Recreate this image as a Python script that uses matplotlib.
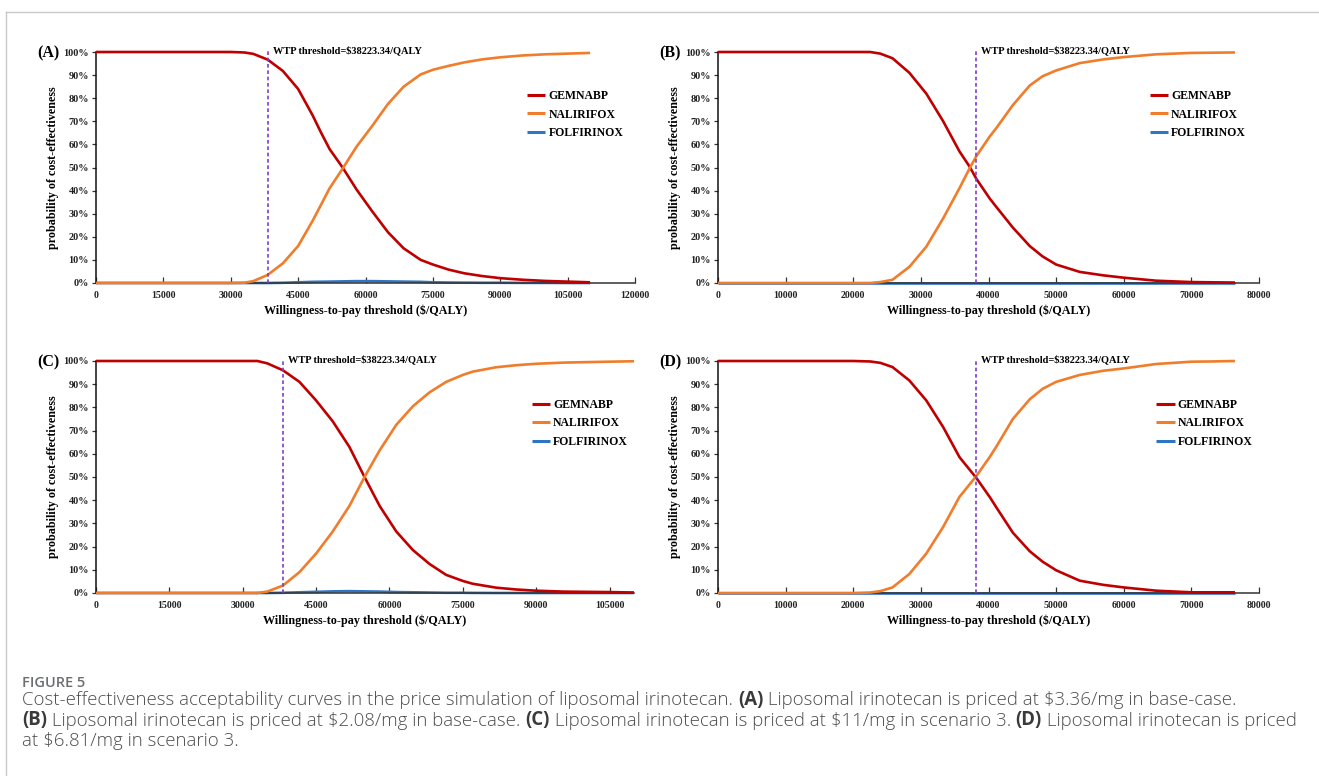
import matplotlib
matplotlib.use("Agg")
import matplotlib.pyplot as plt
from matplotlib.lines import Line2D
from matplotlib.ticker import FuncFormatter, FixedLocator

W, H = 1319, 776

# ---------------- data ----------------
series_names = ["GEMNABP", "NALIRIFOX", "FOLFIRINOX"]
wtp_threshold = 38223.34
wtp_label = "WTP threshold=$38223.34/QALY"
panel_labels = ["(A)", "(B)", "(C)", "(D)"]

# Panel A
xA = [0, 10000, 20000, 30000, 33000, 35000, 38223, 41600, 45000, 48250, 50000, 52000, 54900, 58000,
      61500, 65000, 68500, 72300, 75000, 78500, 82000, 86000, 90000, 95000, 100000, 105000, 110000]
gemA = [100, 100, 100, 100, 99.8, 99.2, 96.7, 91.8, 84, 72.5, 65.5, 58, 50, 40.5,
        31, 22, 15, 10, 8, 5.8, 4.2, 3, 2.1, 1.4, 0.9, 0.6, 0.3]
nalA = [0, 0, 0, 0, 0.1, 0.8, 3.5, 8.5, 16, 27, 33.5, 41, 49.5, 59,
        68, 77.5, 85, 90.3, 92.3, 94, 95.5, 96.8, 97.7, 98.5, 99, 99.3, 99.6]
folA = [0, 0, 0, 0, 0, 0, 0, 0.1, 0.3, 0.5, 0.55, 0.6, 0.7, 0.8,
        0.8, 0.7, 0.6, 0.5, 0.3, 0.2, 0.15, 0.1, 0.1, 0.05, 0.05, 0, 0]

# Panel B
xB = [0, 10000, 20000, 22500, 24000, 25800, 28300, 30800, 33300, 35700, 37200, 38223, 40200,
      41140, 43600, 46100, 48000, 50000, 53500, 57000, 60000, 64800, 70000, 73000, 76447]
gemB = [100, 100, 100, 100, 99.3, 97.3, 91, 82, 70, 57, 50.4, 45, 36.5,
        33, 24, 16, 11.5, 8, 4.8, 3.3, 2.3, 1.0, 0.4, 0.3, 0.2]
nalB = [0, 0, 0, 0, 0.4, 1.4, 7, 15.7, 28, 41, 49.6, 55, 63.5,
        67, 77, 85.5, 89.5, 92, 95.2, 96.8, 97.8, 99, 99.6, 99.7, 99.8]
folB = [0] * len(xB)

# Panel C
xC = [0, 15000, 30000, 33000, 35000, 38223, 41600, 45000, 48400, 51800, 54900, 58000, 61400,
      64800, 68200, 71600, 75000, 77000, 81800, 86000, 90000, 95500, 100000, 105000, 110000]
gemC = [100, 100, 100, 100, 99, 96, 91, 83, 74, 63, 50, 37.5, 26.5,
        18.5, 12.5, 7.8, 5.2, 4, 2.3, 1.5, 1.0, 0.6, 0.5, 0.4, 0.2]
nalC = [0, 0, 0, 0, 0.6, 3.2, 9, 17, 26.5, 37.5, 50, 61.5, 72.5,
        80.5, 86.5, 91, 94, 95.4, 97.3, 98.2, 98.8, 99.3, 99.5, 99.7, 99.9]
folC = [0, 0, 0, 0, 0, 0.1, 0.3, 0.5, 0.7, 0.8, 0.7, 0.6, 0.4,
        0.3, 0.2, 0.1, 0.1, 0.05, 0, 0, 0, 0, 0, 0, 0]

# Panel D
xD = [0, 10000, 20000, 22500, 24000, 25800, 28300, 30800, 33300, 35700, 38223, 40200, 41140,
      43600, 46100, 48000, 50000, 53500, 57000, 60000, 64800, 70000, 73000, 76447]
gemD = [100, 100, 100, 99.8, 99.2, 97.4, 91.6, 83, 71.5, 58.6, 49.5, 41.3, 37,
        26, 18, 13.5, 9.8, 5.3, 3.5, 2.4, 1.0, 0.3, 0.3, 0.3]
nalD = [0, 0, 0, 0.2, 0.8, 2.4, 8.2, 17, 28.5, 41.4, 50.5, 58.7, 63,
        75, 83.5, 88, 91, 94, 95.8, 96.8, 98.7, 99.7, 99.8, 100]
folD = [0] * len(xD)

xticksA = [0, 15000, 30000, 45000, 60000, 75000, 90000, 105000, 120000]
xticksB = [0, 10000, 20000, 30000, 40000, 50000, 60000, 70000, 80000]
xticksC = [0, 15000, 30000, 45000, 60000, 75000, 90000, 105000]
xticksD = [0, 10000, 20000, 30000, 40000, 50000, 60000, 70000, 80000]
xlims = [120000, 80000, 110000, 80000]
yticks = [0, 10, 20, 30, 40, 50, 60, 70, 80, 90, 100]

x_label = "Willingness-to-pay threshold ($/QALY)"
y_label = "probability of cost-effectiveness"

caption_head = "FIGURE 5"
caption_lines = [
    [("Cost-effectiveness acceptability curves in the price simulation of liposomal irinotecan. ", False),
     ("(A)", True), (" Liposomal irinotecan is priced at $3.36/mg in base-case.", False)],
    [("(B)", True), (" Liposomal irinotecan is priced at $2.08/mg in base-case. ", False),
     ("(C)", True), (" Liposomal irinotecan is priced at $11/mg in scenario 3. ", False),
     ("(D)", True), (" Liposomal irinotecan is priced", False)],
    [("at $6.81/mg in scenario 3.", False)],
]

# ---------------- style ----------------
colors = ["#C00000", "#F07D2B", "#2E75C6"]
purple = "#7B3FC8"
serif = ["Liberation Serif", "DejaVu Serif"]
sans = ["Open Sans", "DejaVu Sans"]

fig = plt.figure(figsize=(W / 100, H / 100), dpi=100)

# panel rectangles in pixels: left, top, right, bottom
rects = [(96, 52, 635, 283), (718, 52, 1259, 283), (96, 361, 634, 593), (718, 361, 1259, 593)]
legend_anchor = [(0.80, 0.835), (0.798, 0.835), (0.81, 0.837), (0.81, 0.837)]

panels = [
    (xA, gemA, nalA, folA, xticksA),
    (xB, gemB, nalB, folB, xticksB),
    (xC, gemC, nalC, folC, xticksC),
    (xD, gemD, nalD, folD, xticksD),
]

for i, (x, g, n, f, xt) in enumerate(panels):
    l, t, r, b = rects[i]
    ax = fig.add_axes([l / W, 1 - b / H, (r - l) / W, (b - t) / H])
    ax.set_xlim(0, xlims[i])
    ax.set_ylim(0, 100)
    lines = []
    for yv, c, name in zip([g, n, f], colors, series_names):
        ln, = ax.plot(x, yv, color=c, lw=1.9, clip_on=False, label=name, solid_capstyle="butt",
                      solid_joinstyle="round", zorder=3)
        lines.append(ln)
    lines[2].set_zorder(2.5)
    ax.plot([wtp_threshold, wtp_threshold], [0, 101], color=purple, lw=1.2, ls=(0, (2.2, 1.6)),
            clip_on=False, zorder=4)
    ax.annotate(wtp_label, xy=(wtp_threshold, 100), xytext=(3.5, 1.0), textcoords="offset points",
                ha="left", va="center", fontsize=7.5, fontweight="bold", family=serif,
                annotation_clip=False)
    ax.xaxis.set_major_locator(FixedLocator(xt))
    ax.yaxis.set_major_locator(FixedLocator(yticks))
    ax.xaxis.set_major_formatter(FuncFormatter(lambda v, p: f"{int(v)}"))
    ax.yaxis.set_major_formatter(FuncFormatter(lambda v, p: f"{int(round(v))}%"))
    for lab in ax.get_xticklabels():
        lab.set_family(serif)
        lab.set_fontweight("bold")
        lab.set_fontsize(7.1)
        lab.set_color("#222222")
    for lab in ax.get_yticklabels():
        lab.set_family(serif)
        lab.set_fontweight("bold")
        lab.set_fontsize(7.4)
        lab.set_color("#222222")
    ax.tick_params(axis="x", direction="in", length=4, width=0.9, color="#333333", pad=6)
    ax.tick_params(axis="y", direction="out", length=3, width=0.9, color="#333333", pad=2)
    for s in ["top", "right"]:
        ax.spines[s].set_visible(False)
    ax.spines["left"].set_color("#111111")
    ax.spines["left"].set_linewidth(1.1)
    ax.spines["bottom"].set_color("#333333")
    ax.spines["bottom"].set_linewidth(1.1)
    ax.set_xlabel(x_label, family=serif, fontweight="bold", fontsize=8.7, labelpad=3)
    ax.set_ylabel(y_label, family=serif, fontweight="bold", fontsize=8.7, labelpad=3)
    leg = ax.legend(handles=lines, loc="upper left", bbox_to_anchor=legend_anchor[i], frameon=False,
                    prop={"family": serif, "weight": "bold", "size": 8.5}, handlelength=1.55,
                    handletextpad=0.25, labelspacing=0.55, borderpad=0, borderaxespad=0)
    for h in leg.get_lines():
        h.set_linewidth(2.2)
    fig.text((l - 48) / W, 1 - (t + 1.5) / H, panel_labels[i], family=serif, fontweight="bold",
             fontsize=11.5, ha="center", va="center")

# frame lines
fig.add_artist(Line2D([6 / W, 1], [1 - 12 / H, 1 - 12 / H], color="#c8c8c8", lw=1.0))
fig.add_artist(Line2D([6 / W, 6 / W], [1 - 12 / H, 0], color="#c8c8c8", lw=1.0))

# caption
renderer = fig.canvas.get_renderer()
fig.text(22 / W, 1 - 683 / H, caption_head, family=sans, fontweight="semibold",
         fontsize=10.5, color="#6d6e71", ha="left", va="center")


def text_width(s, bold, size):
    def w(txt):
        tt = fig.text(0, 0, txt, family=sans, fontweight="bold" if bold else "light", fontsize=size)
        e = tt.get_window_extent(renderer).width
        tt.remove()
        return e
    return w("x" + s + "x") - w("xx")


cap_size = 13.4
for row, parts in enumerate(caption_lines):
    y = 700 + row * 20.5
    xp = 22
    for s, bold in parts:
        fig.text(xp / W, 1 - y / H, s, family=sans,
                 fontweight="bold" if bold else "light", fontsize=cap_size,
                 color="#4d4d4f" if not bold else "#3a3a3c", ha="left", va="center")
        xp += text_width(s, bold, cap_size)

fig.savefig("out.png", dpi=100)
